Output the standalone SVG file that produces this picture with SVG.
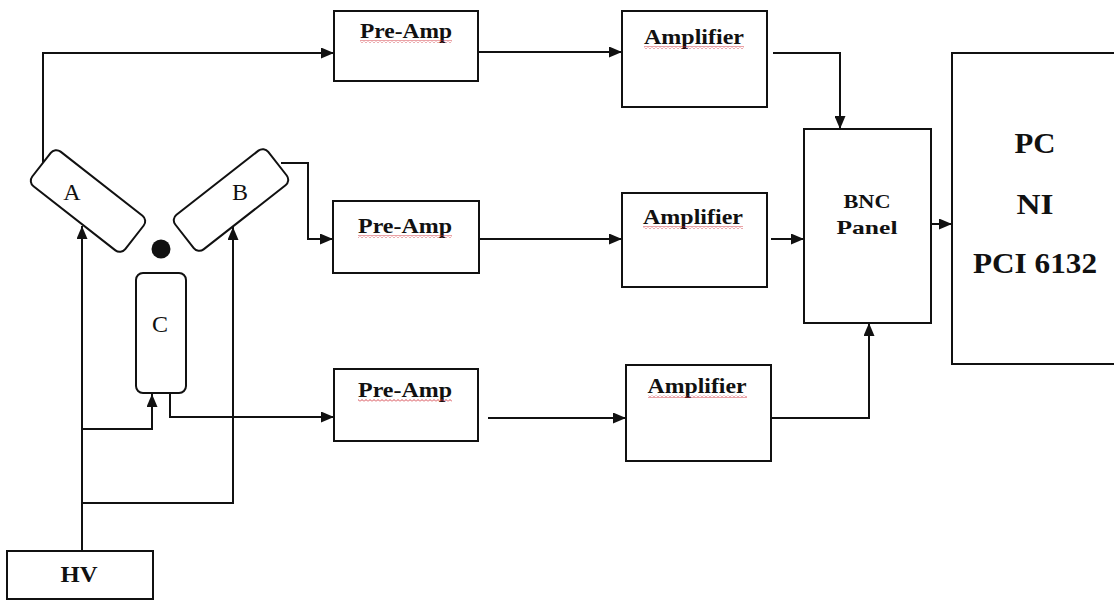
<svg xmlns="http://www.w3.org/2000/svg" width="1114" height="601" viewBox="0 0 1114 601">
<defs>
<marker id="arr" viewBox="0 0 13 11" refX="13" refY="5.5" markerWidth="13" markerHeight="11" markerUnits="userSpaceOnUse" orient="auto">
<path d="M0,0 L13,5.5 L0,11 z" fill="#111"/>
</marker>
<pattern id="wavy" x="0" y="0" width="4" height="3" patternUnits="userSpaceOnUse">
<polyline points="0,2.5 2,0.5 4,2.5" fill="none" stroke="#d0303a" stroke-width="0.9"/>
</pattern>
</defs>
<style>
.box{fill:#fff;stroke:#111;stroke-width:2}
.det{fill:#fff;stroke:#111;stroke-width:2}
.con{fill:none;stroke:#111;stroke-width:2}
.lbl{font-family:"Liberation Serif","Times New Roman",serif;font-weight:bold;fill:#111;text-anchor:middle}
.det-lbl{font-family:"Liberation Serif","Times New Roman",serif;fill:#111;text-anchor:middle;font-size:24px}
.sq{fill:url(#wavy)}
</style>
<rect width="1114" height="601" fill="#fff"/>

<g id="connectors">
<path class="con" d="M43,165 V53 H334" marker-end="url(#arr)"/>
<path class="con" d="M478,52 H622" marker-end="url(#arr)"/>
<path class="con" d="M773,53 H840 V129" marker-end="url(#arr)"/>
<path class="con" d="M281,163 H308 V239 H333" marker-end="url(#arr)"/>
<path class="con" d="M479,239 H622" marker-end="url(#arr)"/>
<path class="con" d="M771,239 H804" marker-end="url(#arr)"/>
<path class="con" d="M931,224 H952" marker-end="url(#arr)"/>
<path class="con" d="M170,393 V417 H334" marker-end="url(#arr)"/>
<path class="con" d="M488,418 H626" marker-end="url(#arr)"/>
<path class="con" d="M771,418 H869 V323" marker-end="url(#arr)"/>
<path class="con" d="M82,551 V226" marker-end="url(#arr)"/>
<path class="con" d="M82,429 H152 V394" marker-end="url(#arr)"/>
<path class="con" d="M82,503 H233 V227" marker-end="url(#arr)"/>
</g>

<g id="detA">
<rect class="det" x="29" y="179" width="118" height="44" rx="7" transform="rotate(38 88 201)"/>
<text class="det-lbl" x="72" y="200">A</text>
</g>
<g id="detB">
<rect class="det" x="172" y="178" width="118" height="44" rx="7" transform="rotate(-38 231 200)"/>
<text class="det-lbl" x="240" y="200">B</text>
</g>
<g id="detC">
<rect class="det" x="136" y="273" width="50" height="120" rx="7"/>
<text class="det-lbl" x="160" y="332">C</text>
</g>
<g id="source">
<circle cx="161" cy="249" r="9.5" fill="#111"/>
</g>

<g id="hv">
<rect class="box" x="7" y="551" width="146" height="48"/>
<text class="lbl" x="79" y="582" font-size="23" textLength="37" lengthAdjust="spacingAndGlyphs">HV</text>
</g>

<g id="preamp1">
<rect class="box" x="334" y="11" width="144" height="70"/>
<text class="lbl" x="406" y="38" font-size="21" textLength="92" lengthAdjust="spacingAndGlyphs">Pre-Amp</text>
<rect class="sq" x="360" y="40" width="92" height="3"/>
</g>
<g id="amp1">
<rect class="box" x="622" y="11" width="145" height="96"/>
<text class="lbl" x="694" y="44" font-size="21" textLength="100" lengthAdjust="spacingAndGlyphs">Amplifier</text>
<rect class="sq" x="644" y="46" width="100" height="3"/>
</g>

<g id="preamp2">
<rect class="box" x="333" y="201" width="146" height="72"/>
<text class="lbl" x="405" y="233" font-size="21" textLength="94" lengthAdjust="spacingAndGlyphs">Pre-Amp</text>
<rect class="sq" x="358" y="235" width="94" height="3"/>
</g>
<g id="amp2">
<rect class="box" x="622" y="193" width="145" height="94"/>
<text class="lbl" x="693" y="224" font-size="21" textLength="100" lengthAdjust="spacingAndGlyphs">Amplifier</text>
<rect class="sq" x="643" y="226" width="100" height="3"/>
</g>

<g id="preamp3">
<rect class="box" x="334" y="369" width="144" height="72"/>
<text class="lbl" x="405" y="397" font-size="21" textLength="94" lengthAdjust="spacingAndGlyphs">Pre-Amp</text>
<rect class="sq" x="358" y="399" width="94" height="3"/>
</g>
<g id="amp3">
<rect class="box" x="626" y="365" width="145" height="96"/>
<text class="lbl" x="697" y="393" font-size="21" textLength="99" lengthAdjust="spacingAndGlyphs">Amplifier</text>
<rect class="sq" x="648" y="395" width="99" height="3"/>
</g>

<g id="bnc">
<rect class="box" x="804" y="129" width="127" height="194"/>
<text class="lbl" x="867" y="208" font-size="19" textLength="47" lengthAdjust="spacingAndGlyphs">BNC</text>
<text class="lbl" x="867" y="234" font-size="19" textLength="61" lengthAdjust="spacingAndGlyphs">Panel</text>
</g>

<g id="pc">
<path class="box" d="M1116,53 H952 V364 H1116"/>
<text class="lbl" x="1035" y="153" font-size="30" textLength="41" lengthAdjust="spacingAndGlyphs">PC</text>
<text class="lbl" x="1035" y="214" font-size="30" textLength="37" lengthAdjust="spacingAndGlyphs">NI</text>
<text class="lbl" x="1035" y="273" font-size="30" textLength="124" lengthAdjust="spacingAndGlyphs">PCI 6132</text>
</g>
</svg>
